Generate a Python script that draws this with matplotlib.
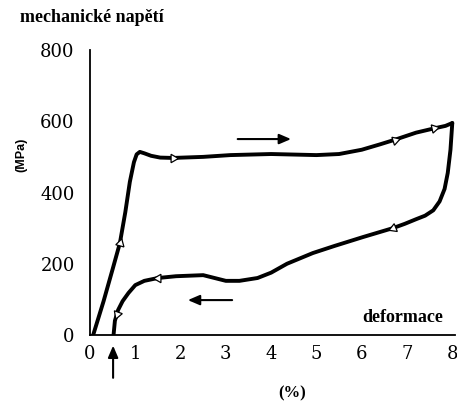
import numpy as np
import matplotlib
matplotlib.use('agg')
import matplotlib.pyplot as plt

# Stress-strain loop (superelastic hysteresis)
load_x = [0.07, 0.3, 0.5, 0.66, 0.78, 0.88, 0.97, 1.03, 1.1, 1.2, 1.35, 1.55, 1.83, 2.5, 3.1,
          4.0, 5.0, 5.5, 6.0, 6.4, 6.73, 7.2, 7.6, 7.85, 8.0]
load_y = [0, 95, 185, 258, 345, 430, 485, 507, 514, 510, 503, 498, 497, 500, 505,
          508, 505, 508, 520, 535, 548, 568, 580, 587, 595]

unload_x = [8.0, 7.96, 7.9, 7.83, 7.72, 7.58, 7.4, 7.2, 6.95, 6.69, 6.03, 5.4, 4.92, 4.35,
            4.0, 3.7, 3.3, 3.0, 2.5, 1.9, 1.5, 1.2, 1.0, 0.85, 0.72, 0.62, 0.55, 0.52]
unload_y = [595, 520, 455, 410, 375, 350, 335, 325, 312, 300, 275, 250, 230, 200,
            175, 160, 152, 152, 168, 165, 160, 152, 140, 118, 95, 70, 40, 0]

# direction markers (x, y, rotation of the triangle)
tri_x = [0.66, 1.83, 6.73, 7.6, 6.69, 1.5, 0.6]
tri_y = [258, 497, 548, 580, 300, 160, 60]
tri_rot = [-15, -90, -72, -78, 112, 90, 160]

x_ticks = [0, 1, 2, 3, 4, 5, 6, 7, 8]
y_ticks = [0, 200, 400, 600, 800]

serif = ['DejaVu Serif']
bserif = ['Liberation Serif', 'DejaVu Serif']

fig = plt.figure(figsize=(4.57, 4.03), dpi=100)
ax = fig.add_axes([90/457, 1-335/403, 365/457, 285/403])

ax.plot(load_x, load_y, color='k', lw=2.8, solid_capstyle='round', solid_joinstyle='round', zorder=2)
ax.plot(unload_x, unload_y, color='k', lw=2.8, solid_capstyle='round', solid_joinstyle='round', zorder=2)
for tx, ty, r in zip(tri_x, tri_y, tri_rot):
    ax.plot(tx, ty, marker=(3, 0, r), ms=7, mfc='white', mec='k', mew=0.9, zorder=3)

ax.set_xlim(0, 8.06)
ax.set_ylim(0, 800)
ax.set_xticks(x_ticks)
ax.set_yticks(y_ticks)
ax.tick_params(length=0)
for lab in ax.get_xticklabels() + ax.get_yticklabels():
    lab.set_fontfamily(serif)
    lab.set_fontsize(13)
ax.tick_params(axis='y', pad=11)
ax.tick_params(axis='x', pad=7)
ax.spines['top'].set_visible(False)
ax.spines['right'].set_visible(False)
ax.spines['left'].set_linewidth(1.3)
ax.spines['bottom'].set_linewidth(1.3)

# direction arrows
arrow = dict(arrowstyle='-|>,head_length=0.7,head_width=0.3', color='k', lw=1.5)
ax.annotate('', xy=(4.5, 550), xytext=(3.2, 550), arrowprops=arrow)
ax.annotate('', xy=(2.1, 98), xytext=(3.2, 98), arrowprops=arrow)
ax.annotate('', xy=(0.51, -22), xytext=(0.51, -128), arrowprops=arrow,
            annotation_clip=False)

fig.text(20/457, 1-18/403, 'mechanické napětí', fontfamily=bserif, fontsize=13,
         fontweight='bold', va='center', ha='left')
fig.text(362/457, 1-318/403, 'deformace', fontfamily=bserif, fontsize=13,
         fontweight='bold', va='center', ha='left')
fig.text(292/457, 1-393/403, '(%)', fontfamily=bserif, fontsize=12,
         fontweight='bold', va='center', ha='center')
fig.text(21/457, 1-155/403, '(MPa)', fontfamily='Liberation Sans', fontsize=9,
         fontweight='bold', va='center', ha='center', rotation=90)

fig.savefig('out.png', dpi=100)
